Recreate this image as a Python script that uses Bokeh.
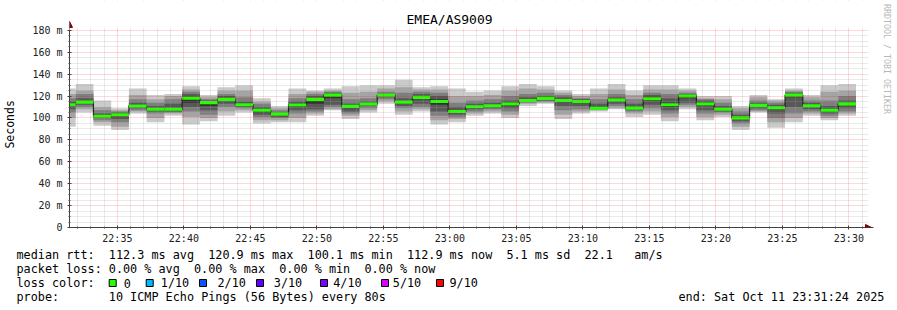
from math import pi
from bokeh.plotting import figure
from bokeh.layouts import column
from bokeh.models import Range1d, FixedTicker, Label, Arrow, NormalHead, BoxAnnotation, LinearAxis
from bokeh.core.properties import value
from bokeh.embed import file_html
from bokeh.resources import INLINE

# ---------------- data ----------------
title_text = "EMEA/AS9009"
graph_start = "22:31:24"
graph_end = "23:31:24"
first_step_end = "22:31:52"
step_seconds = 80

x_tick_labels = ["22:35", "22:40", "22:45", "22:50", "22:55", "23:00",
                 "23:05", "23:10", "23:15", "23:20", "23:25", "23:30"]
y_tick_values = [0, 20, 40, 60, 80, 100, 120, 140, 160, 180]
y_tick_labels = ["0", "20 m", "40 m", "60 m", "80 m", "100 m", "120 m", "140 m", "160 m", "180 m"]
y_axis_title = "Seconds"

# median rtt (ms) per 80 s step
median_ms = [112, 114.5, 101.5, 103, 111, 108, 108, 118, 114, 117,
             112, 107, 103.5, 111.8, 117, 120.9, 110.6, 112.7, 120.8, 114.5,
             118.8, 115.1, 106, 110.3, 111.2, 112.7, 116, 117.9, 116, 115,
             109, 116.4, 109, 117.6, 112, 120, 112.7, 107.9, 100.1, 111.5,
             109.4, 120.9, 111.2, 107, 112.9]

# sorted ping rtts (ms), rank 1 (fastest) .. rank 10 (slowest), per step
ping_01 = [92, 105, 93, 89, 104, 96, 102, 94, 97, 102, 105, 95, 96, 96, 102, 107, 99, 105, 113, 103,
           106, 94, 96, 102, 104, 100, 111, 113, 99, 104, 106, 108, 101, 103, 97, 108, 98, 101, 89, 105,
           91, 96, 102, 98, 102]
ping_02 = [100, 108, 96, 92, 106, 100, 104, 101, 100, 106, 107, 98, 98, 100, 104, 108, 102, 107, 115, 106,
           108, 98, 99, 104, 106, 103, 113, 114, 103, 106, 107, 109, 104, 106, 101, 110, 101, 103, 92, 106,
           96, 100, 104, 100, 104]
ping_03 = [105, 110, 98, 96, 107, 104, 105, 106, 103, 110, 109, 101, 100, 104, 106, 110, 104, 109, 117, 109,
           110, 102, 101, 106, 108, 106, 114, 115, 107, 108, 108, 111, 106, 109, 104, 112, 104, 105, 95, 107,
           100, 104, 106, 102, 106]
ping_04 = [108, 112, 100, 99, 109, 106, 106, 110, 107, 113, 110, 103, 101, 107, 108, 112, 106, 111, 119, 111,
           113, 106, 103, 108, 109, 109, 115, 116, 111, 111, 109, 113, 107, 112, 107, 114, 107, 106, 97, 109,
           104, 110, 108, 104, 109]
ping_05 = [111, 114, 101, 102, 110, 107, 107, 114, 111, 116, 111, 105, 102, 110, 113, 118, 109, 112, 120, 113,
           117, 112, 105, 109, 110, 111, 116, 117, 115, 114, 110, 116, 108, 116, 110, 118, 111, 107, 99, 111,
           108, 119, 110, 106, 112]
ping_06 = [113, 115, 102, 104, 112, 109, 109, 119, 115, 118, 113, 108, 104, 113, 118, 122, 111, 113, 121, 115,
           120, 117, 107, 111, 112, 114, 117, 118, 117, 116, 111, 117, 110, 119, 114, 121, 114, 109, 101, 112,
           110, 122, 112, 108, 114]
ping_07 = [115, 118, 104, 105, 114, 111, 113, 122, 116, 120, 115, 110, 105, 115, 120, 123, 113, 115, 122, 118,
           122, 120, 110, 113, 114, 116, 119, 120, 119, 117, 113, 119, 113, 121, 118, 122, 116, 111, 103, 114,
           112, 123, 114, 111, 116]
ping_08 = [118, 122, 107, 106, 117, 114, 117, 124, 117, 122, 119, 113, 107, 118, 122, 124, 117, 118, 124, 123,
           124, 123, 114, 116, 117, 120, 122, 123, 121, 118, 117, 122, 117, 123, 122, 123, 117, 114, 106, 116,
           114, 124, 116, 116, 120]
ping_09 = [122, 125, 110, 107, 121, 117, 120, 126, 119, 125, 125, 115, 109, 122, 124, 125, 123, 124, 127, 128,
           126, 126, 120, 120, 121, 125, 127, 126, 123, 120, 122, 126, 121, 126, 126, 125, 118, 117, 109, 119,
           116, 125, 119, 124, 125]
ping_10 = [127, 131, 116, 109, 127, 121, 122, 129, 121, 128, 130, 118, 111, 127, 125, 127, 129, 130, 130, 135,
           128, 129, 127, 124, 125, 129, 131, 129, 125, 122, 127, 131, 125, 130, 130, 127, 120, 120, 111, 121,
           117, 127, 121, 130, 131]

line_rtt = [("median rtt:", 0), ("112.3 ms avg", 13), ("120.9 ms max", 27), ("100.1 ms min", 41),
            ("112.9 ms now", 55), ("5.1 ms sd", 69), ("22.1", 80), ("am/s", 87)]
line_loss = [("packet loss:", 0), ("0.00 % avg", 13), ("0.00 % max", 25), ("0.00 % min", 37),
             ("0.00 % now", 49)]
loss_labels = ["0", "1/10", "2/10", "3/10", "4/10", "5/10", "9/10"]
loss_colors = ["#26ff00", "#00b8ff", "#0059ff", "#5e00ff", "#7e00ff", "#dd00ff", "#ff0000"]
probe_label = "probe:"
probe_text = "10 ICMP Echo Pings (56 Bytes) every 80s"
end_text = "end: Sat Oct 11 23:31:24 2025"
watermark = "RRDTOOL / TOBI OETIKER"

# ---------------- layout constants ----------------
W = 897
MAIN_H = 246          # chart part (canvas rows 0..245)
FOOT_H = 310 - MAIN_H
FL = 67               # frame left
GX0, GX1 = 67, 867    # graph area in pixels (x)
GY_BOTTOM = 228       # y of value 0
PX_PER_MS = 1.1
MONO = "DejaVu Sans Mono"
CW = 7.1              # legend char width
X0 = 16               # legend left
NBSP = "\u00a0"


def secs(hms):
    parts = [int(v) for v in hms.split(":")]
    while len(parts) < 3:
        parts.append(0)
    return parts[0] * 3600 + parts[1] * 60 + parts[2]


t0, t1 = secs(graph_start), secs(graph_end)
S_PER_PX = (t1 - t0) / (GX1 - GX0)
first = secs(first_step_end)
n = len(median_ms)
lefts = [t0] + [first + step_seconds * (k - 1) for k in range(1, n)]
rights = [first + step_seconds * k for k in range(n)]

x_end = t1 + 6 * S_PER_PX                 # room for the axis arrow
y_top = GY_BOTTOM / PX_PER_MS             # frame reaches canvas top
right_border = W - (GX1 + 6)

p = figure(width=W, height=MAIN_H, x_range=Range1d(t0, x_end), y_range=Range1d(0, y_top),
           output_backend="svg", toolbar_location=None,
           min_border_left=FL, min_border_right=right_border, min_border_top=0,
           min_border_bottom=MAIN_H - GY_BOTTOM)
p.outline_line_color = None
p.background_fill_color = "white"
p.border_fill_color = "white"
p.frame_align = False

# smoke
ranks = [ping_01, ping_02, ping_03, ping_04, ping_05, ping_06, ping_07, ping_08, ping_09, ping_10]
grays = ["#cacaca", "#a4a4a4", "#7e7e7e", "#585858", "#323232"]
for i in range(5):
    p.quad(left=lefts, right=rights, bottom=ranks[i], top=ranks[9 - i],
           fill_color=grays[i], line_color=None)

# median line (dark) + loss-colour band
xs, ys = [], []
for l, r, m in zip(lefts, rights, median_ms):
    xs += [l, r]
    ys += [m, m]
p.line(xs, ys, line_color="#202020", line_width=1.2)
sw = 1.4
p.quad(left=lefts, right=rights, bottom=[m - sw for m in median_ms], top=[m + sw for m in median_ms],
       fill_color=loss_colors[0], line_color=None)

# axes & grids
major_x = [secs(lbl) for lbl in x_tick_labels]
minor_x = [v for v in range(secs("22:32"), t1, 60) if v not in major_x]
minor_y = [v for v in range(0, 181, 5) if v not in y_tick_values]
xt = FixedTicker(ticks=major_x, minor_ticks=minor_x)
yt = FixedTicker(ticks=y_tick_values, minor_ticks=minor_y)
p.xaxis.ticker = xt
p.yaxis.ticker = yt
p.xgrid.ticker = xt
p.ygrid.ticker = yt
p.xaxis.major_label_overrides = {v: lbl for v, lbl in zip(major_x, x_tick_labels)}
p.yaxis.major_label_overrides = {v: lbl for v, lbl in zip(y_tick_values, y_tick_labels)}
p.yaxis.bounds = (0, 180)

for ax in (p.xaxis[0], p.yaxis[0]):
    ax.axis_line_color = "#404040"
    ax.major_tick_line_color = "#404040"
    ax.minor_tick_line_color = "#404040"
    ax.major_tick_in = 2
    ax.major_tick_out = 2
    ax.minor_tick_in = 1
    ax.minor_tick_out = 1
    ax.major_label_text_font = MONO
    ax.major_label_text_font_size = "10px"
    ax.major_label_text_color = "#202020"
p.xaxis.major_label_standoff = 3
p.yaxis.major_label_standoff = 5
# the axis title is centred on the frame; padding moves it to where the reference has it
p.yaxis.axis_label = y_axis_title + NBSP * 3
p.yaxis.axis_label_text_font = MONO
p.yaxis.axis_label_text_font_size = "11.5px"
p.yaxis.axis_label_text_font_style = "normal"
p.yaxis.axis_label_text_color = "#000000"
p.yaxis.axis_label_standoff = 12

wm = LinearAxis(ticker=FixedTicker(ticks=[]), axis_line_color=None, major_tick_line_color=None,
                minor_tick_line_color=None, major_label_text_font_size="0px",
                axis_label=watermark + NBSP * 22, axis_label_text_font=MONO,
                axis_label_text_font_size="8.3px",
                axis_label_text_font_style="normal", axis_label_text_color="#b8b8b8",
                axis_label_standoff=8)
p.add_layout(wm, "right")

for g in (p.xgrid[0], p.ygrid[0]):
    g.grid_line_color = "#ff0000"
    g.grid_line_alpha = 0.3
    g.grid_line_dash = "1 1"
    g.minor_grid_line_color = "#a0a0a0"
    g.minor_grid_line_alpha = 0.45
    g.minor_grid_line_dash = "1 1"
    g.level = "overlay"

# white masks that stop the grid just above the top/right of the graph area
p.add_layout(BoxAnnotation(left=t0 + S_PER_PX, bottom=180 + 3 / PX_PER_MS, fill_color="white",
                           fill_alpha=1, line_color=None, level="overlay"))
p.add_layout(BoxAnnotation(left=t1 + S_PER_PX, bottom=2 / PX_PER_MS, fill_color="white",
                           fill_alpha=1, line_color=None, level="overlay"))

# axis arrows
p.add_layout(Arrow(end=NormalHead(size=6, fill_color="#800000", line_color="#800000"),
                   x_start=t0, y_start=180, x_end=t0, y_end=(GY_BOTTOM - 21) / PX_PER_MS,
                   line_color="#404040", line_width=1, level="overlay"))
p.add_layout(Arrow(end=NormalHead(size=6, fill_color="#800000", line_color="#800000"),
                   x_start=t1, y_start=0, x_end=t1 + 4 * S_PER_PX, y_end=0,
                   line_color="#404040", line_width=1, level="overlay"))

# title (inside the frame area above the graph)
p.add_layout(Label(x=t0 + (448 - GX0) * S_PER_PX, y=(GY_BOTTOM - 19) / PX_PER_MS, text=title_text,
                   text_font=MONO, text_font_size="13px", text_align="center",
                   text_baseline="middle", text_color="#000000", level="overlay"))

# ---------------- footer (legend text) ----------------
f = figure(width=W, height=FOOT_H, x_range=Range1d(0, W), y_range=Range1d(FOOT_H, 0),
           output_backend="svg", toolbar_location=None, x_axis_location=None, y_axis_location=None,
           min_border_left=0, min_border_right=0, min_border_top=0, min_border_bottom=0)
f.outline_line_color = None
f.xgrid.visible = False
f.ygrid.visible = False
f.background_fill_color = "white"
f.border_fill_color = "white"
f.frame_align = False

rows_y = [254 - MAIN_H, 268.3 - MAIN_H, 282.5 - MAIN_H, 296.7 - MAIN_H]
tx, ty, tt = [], [], []
for txt, idx in line_rtt:
    tx.append(X0 + idx * CW); ty.append(rows_y[0]); tt.append(txt)
for txt, idx in line_loss:
    tx.append(X0 + idx * CW); ty.append(rows_y[1]); tt.append(txt)
tx.append(X0); ty.append(rows_y[2]); tt.append("loss color:")
box_x = [108.7, 145.7, 199, 256, 320, 381, 436]
label_x = [123.3, 160.3, 217, 273.3, 332.7, 392.3, 449]
for lx, txt in zip(label_x, loss_labels):
    tx.append(lx); ty.append(rows_y[2]); tt.append(txt)
tx += [X0, X0 + 13 * CW, 678]
ty += [rows_y[3]] * 3
tt += [probe_label, probe_text, end_text]

f.text(x=tx, y=ty, text=tt, text_font=value(MONO), text_font_size="11.8px",
       text_baseline="middle", text_align="left", text_color="#000000")
f.quad(left=box_x, right=[b + 7 for b in box_x], top=[rows_y[2] - 3.5] * len(box_x),
       bottom=[rows_y[2] + 3.5] * len(box_x), fill_color=loss_colors, line_color="#000000",
       line_width=1)

layout = column(p, f, spacing=0)
open("out.html", "w").write(file_html(layout, INLINE))
